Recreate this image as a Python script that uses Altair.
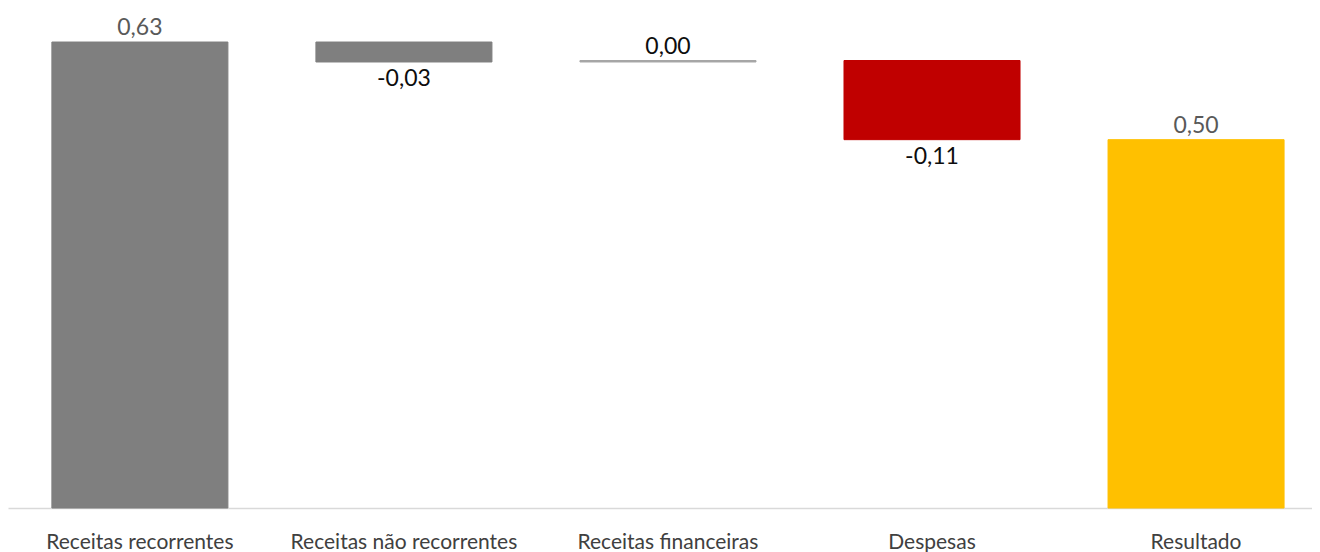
import altair as alt
import pandas as pd

categories = ["Receitas recorrentes", "Receitas não recorrentes", "Receitas financeiras", "Despesas", "Resultado"]
deltas = [0.63, -0.027, 0.002, -0.107]
bar_colors = ["#7f7f7f", "#7f7f7f", "#a6a6a6", "#c00000", "#ffc000"]
label_colors = ["#595959", "#0d0d0d", "#0d0d0d", "#0d0d0d", "#595959"]

rows = []
cum = 0.0
for i, d in enumerate(deltas):
    start = cum
    end = cum + d
    cum = end
    rows.append((categories[i], start, end, d))
rows.append((categories[4], 0.0, cum, cum))

df = pd.DataFrame(rows, columns=["cat", "start", "end", "value"])
df["color"] = bar_colors
df["lcolor"] = label_colors
df["label"] = [f"{v:.2f}".replace(".", ",") for v in df["value"]]
df["top"] = df[["start", "end"]].max(axis=1)
df["bottom"] = df[["start", "end"]].min(axis=1)
df["pos"] = df["value"] >= 0

FONT = "Lato"

xscale = alt.Scale(paddingInner=1/3, paddingOuter=0.136, align=0.611, round=False)
x = alt.X("cat:N", sort=categories, title=None, scale=xscale,
          axis=alt.Axis(labelAngle=0, labelFontSize=21, labelColor="#404040", labelFont=FONT,
                        labelPadding=23, ticks=False, domainColor="#d9d9d9", domainWidth=1.5,
                        labelLimit=400))
yscale = alt.Scale(domain=[0, 0.676], nice=False, zero=True)

base = alt.Chart(df)

bars = base.mark_bar(strokeWidth=1).encode(
    x=x,
    y=alt.Y("start:Q", scale=yscale, axis=None, title=None),
    y2="end:Q",
    color=alt.Color("color:N", scale=None),
    stroke=alt.Stroke("color:N", scale=None),
)

pos_labels = base.transform_filter("datum.pos").mark_text(
    baseline="bottom", dy=-2, fontSize=23, font=FONT
).encode(
    x=alt.X("cat:N", sort=categories),
    y=alt.Y("top:Q", scale=yscale),
    text="label:N",
    color=alt.Color("lcolor:N", scale=None),
)

neg_labels = base.transform_filter("!datum.pos").mark_text(
    baseline="top", dy=6, fontSize=23, font=FONT
).encode(
    x=alt.X("cat:N", sort=categories),
    y=alt.Y("bottom:Q", scale=yscale),
    text="label:N",
    color=alt.Color("lcolor:N", scale=None),
)

chart = alt.layer(bars, pos_labels, neg_labels).properties(
    width=1304, height=500,
    padding={"left": 0, "right": 0, "top": 0, "bottom": 0},
    background="white",
).configure_view(strokeWidth=0, stroke=None)

chart.save("out.html", embed_options={"renderer": "svg", "actions": False})
